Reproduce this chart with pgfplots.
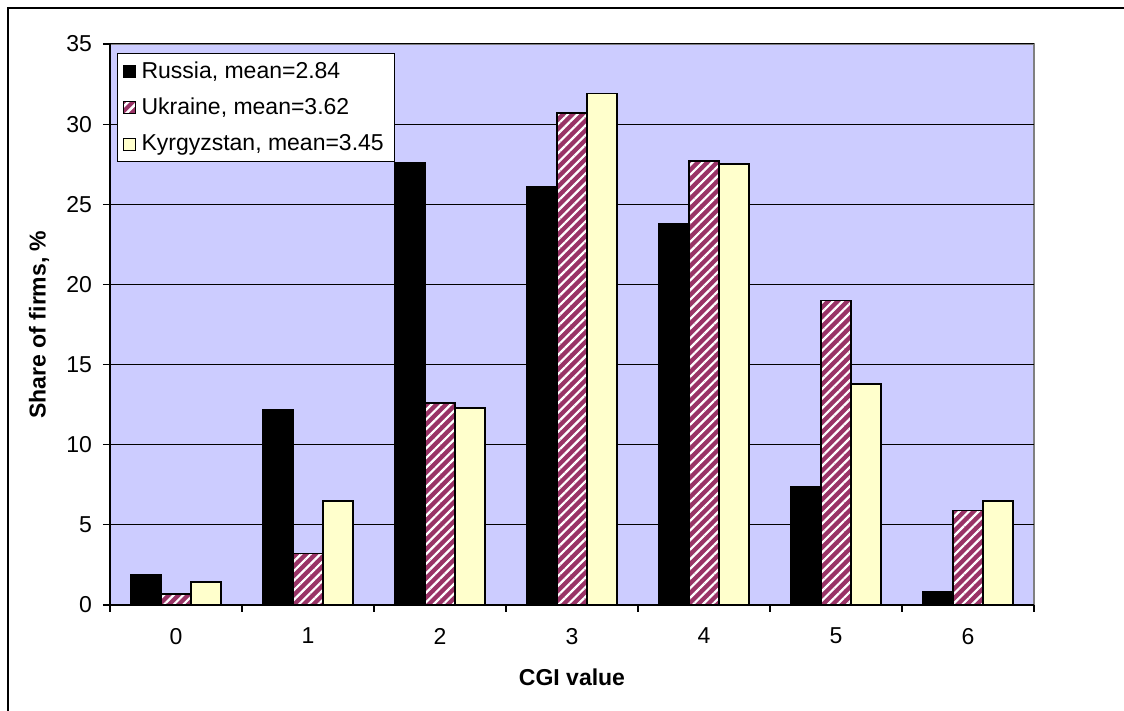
\documentclass[border=0pt]{standalone}
\usepackage{fontspec}
\setmainfont{Liberation Sans}
\usepackage{pgfplots}
\pgfplotsset{compat=1.18}
\usetikzlibrary{patterns.meta}
\definecolor{plotbg}{HTML}{CCCCFF}
\definecolor{plum}{HTML}{993366}
\definecolor{lightyel}{HTML}{FFFFCC}
\pgfplotstableread{
x  russia ukraine kyrgyz
0  1.9    0.7     1.45
1  12.2   3.2     6.5
2  27.6   12.6    12.3
3  26.1   30.7    31.9
4  23.8   27.7    27.5
5  7.4    19.0    13.8
6  0.8    5.9     6.5
}\datatable
\newcommand{\chfont}{\fontsize{11.5}{13.8}\selectfont}
\begin{document}
\begin{tikzpicture}
\useasboundingbox (0,0) rectangle (562pt,355.5pt);
\draw[line width=1pt] (4pt,-5pt) -- (4pt,351.5pt) -- (570pt,351.5pt);
\begin{axis}[
  at={(55pt,53pt)}, anchor=south west,
  width=462pt, height=280.5pt, scale only axis,
  xmin=-0.5, xmax=6.5, ymin=0, ymax=35,
  ybar=0pt, bar width=15pt,
  axis background/.style={fill=plotbg, draw=gray, line width=0.75pt},
  axis lines=left, axis line style={-, black, line width=0.75pt},
  tick align=outside, major tick length=3.5pt,
  tick style={black, line width=0.6pt},
  xtick={-0.5,0.5,1.5,2.5,3.5,4.5,5.5,6.5}, xticklabels={},
  extra x ticks={0,1,2,3,4,5,6},
  extra x tick labels={0,1,2,3,4,5,6},
  extra x tick style={major tick length=0pt, grid=none, xticklabel style={yshift=-8pt}},
  ytick={0,5,...,35},
  ymajorgrids, major grid style={black, line width=0.5pt},
  /pgf/number format/assume math mode=true,
  ticklabel style={font=\chfont},
  yticklabel style={xshift=-2pt},
  xlabel={\bfseries CGI value},
  ylabel={\bfseries Share of firms, \%},
  xlabel style={at={(axis description cs:0.5,-0.128)}, anchor=center, font=\chfont},
  ylabel style={at={(axis description cs:-0.0768,0.5)}, anchor=center, font=\chfont},
  legend style={at={(0.0076,0.984)}, anchor=north west, draw=black, fill=white,
    line width=0.5pt, font=\chfont, row sep=4.5pt,
    inner xsep=2.5pt, inner ysep=2pt,
    nodes={inner xsep=3pt}},
  legend cell align=left,
]
\addplot[fill=black, draw=black, line width=0.75pt,
  legend image code/.code={\draw[fill=black, draw=black, line width=0.5pt] (0pt,-3pt) rectangle (6pt,3pt);}]
  table[x=x, y=russia] {\datatable};
\addlegendentry{Russia, mean=2.84}
\addplot[fill=plum, draw=black, line width=0.75pt,
  postaction={pattern={Lines[angle=45,distance=3.4pt,line width=1.1pt]}, pattern color=white},
  legend image code/.code={\draw[fill=plum, draw=black, line width=0.5pt, postaction={pattern={Lines[angle=45,distance=3.4pt,line width=1.1pt]}, pattern color=white}] (0pt,-3pt) rectangle (6pt,3pt);}]
  table[x=x, y=ukraine] {\datatable};
\addlegendentry{Ukraine, mean=3.62}
\addplot[fill=lightyel, draw=black, line width=0.75pt,
  legend image code/.code={\draw[fill=lightyel, draw=black, line width=0.5pt] (0pt,-3pt) rectangle (6pt,3pt);}]
  table[x=x, y=kyrgyz] {\datatable};
\addlegendentry{Kyrgyzstan, mean=3.45}
\end{axis}
\end{tikzpicture}
\end{document}
